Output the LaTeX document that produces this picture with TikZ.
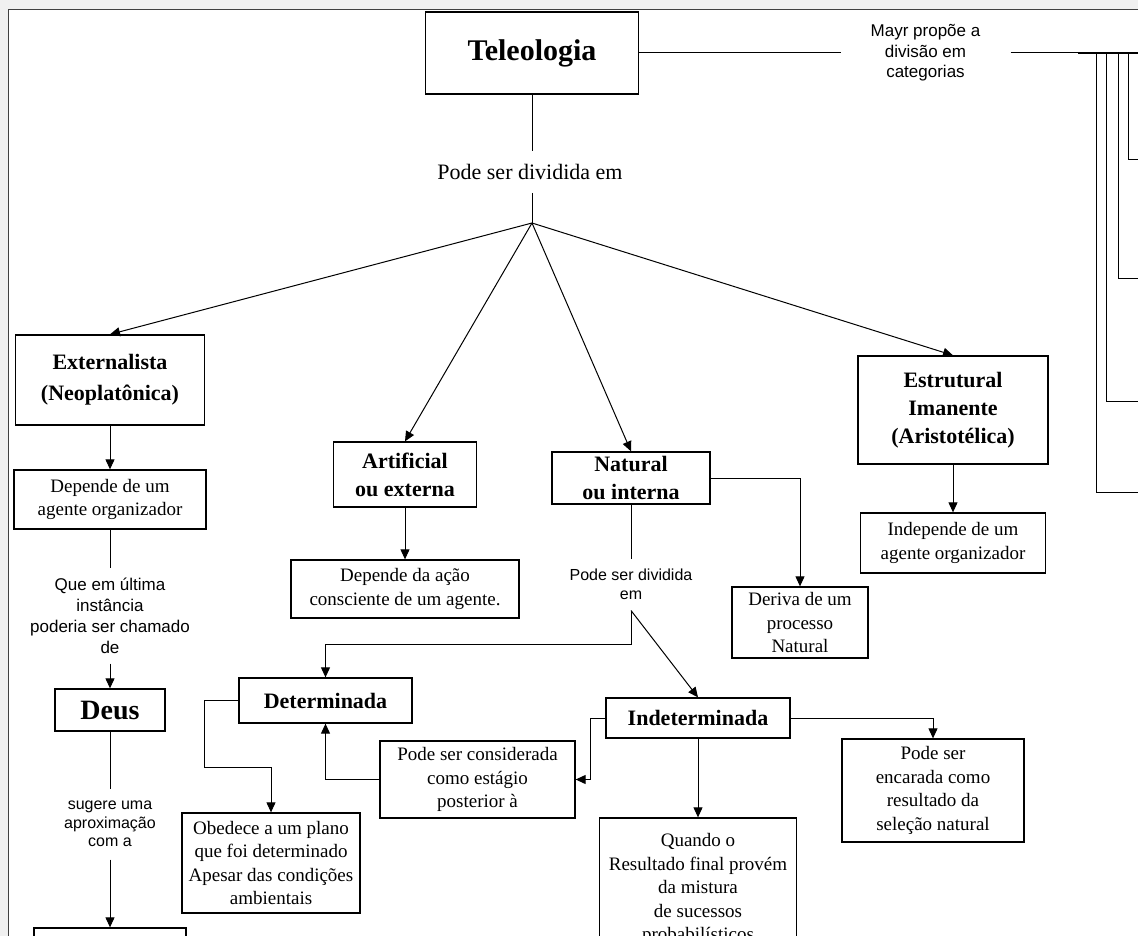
\documentclass[tikz,border=0pt]{standalone}
\usepackage{fontspec}
\setmainfont{Liberation Serif}
\setsansfont{Liberation Sans}
\usetikzlibrary{positioning}
\usetikzlibrary{arrows.meta}

\begin{document}
\begin{tikzpicture}[
  x=1pt, y=-1pt,
  line width=1pt,
  font=\fontsize{19}{23.5}\selectfont
]
\tikzset{
    conceptnode/.style = {rectangle, draw=black, align=center, inner sep=0pt, line width=1.3pt},
    titlenode/.style = {conceptnode, font=\bfseries\fontsize{22}{28}\selectfont},
    textnode/.style = {conceptnode, font=\fontsize{19}{23.5}\selectfont},
    linknode/.style = {align=center, inner sep=0pt, font=\sffamily\fontsize{16}{19.5}\selectfont},
    arrowline/.style = {-{Triangle[length=10pt,width=9pt]}},
}
\useasboundingbox (0,0) rectangle (1138,936);
\clip (0,0) rectangle (1138,936);
\fill[black!6] (0,0) rectangle (1138,936);
\fill[white] (8,10) rectangle (1138,936);
\draw[black!75] (8,936) -- (8,10) -- (1138,10);

\node[titlenode, font=\bfseries\fontsize{30}{36}\selectfont, minimum width=213, minimum height=82] (tele) at (532,53) {Teleologia};
\node[linknode, font=\fontsize{22}{26}\selectfont, minimum height=41] (divlbl) at (530,172) {Pode ser dividida em};
\node[linknode, font=\sffamily\fontsize{17}{20.5}\selectfont, minimum width=169, minimum height=60] (mayr) at (925.5,53) {Mayr propõe a\\divisão em\\categorias};

\node[titlenode, font=\bfseries\fontsize{22}{31}\selectfont, minimum width=189, minimum height=90] (ext) at (110,380) {Externalista\\(Neoplatônica)};
\node[textnode, minimum width=192, minimum height=59] (extdep) at (110,499.5) {Depende de um\\agente organizador};
\node[linknode, font=\sffamily\fontsize{17}{21}\selectfont, minimum height=95] (quelbl) at (110,615.5) {Que em última\\instância\\poderia ser chamado\\de};
\node[titlenode, font=\bfseries\fontsize{28}{34}\selectfont, minimum width=110, minimum height=42] (deus) at (110,710) {Deus};
\node[linknode, font=\sffamily\fontsize{16}{18.5}\selectfont, minimum height=70] (suglbl) at (110,824) {sugere uma\\aproximação\\com a};
\node[conceptnode, minimum width=152, minimum height=44] (nextbox) at (110,950) {};

\node[titlenode, minimum width=143, minimum height=65] (art) at (405,474.5) {Artificial\\ou externa};
\node[textnode, minimum width=228, minimum height=58] (artdep) at (405,589) {Depende da ação\\consciente de um agente.};

\node[titlenode, minimum width=158, minimum height=52] (nat) at (631,478) {Natural\\ou interna};
\node[textnode, minimum width=136, minimum height=71] (natder) at (800,622.5) {Deriva de um\\processo\\Natural};
\node[linknode, minimum height=51] (natlbl) at (631,584.5) {Pode ser dividida\\em};

\node[titlenode, minimum width=190, minimum height=108] (est) at (953,410) {Estrutural\\Imanente\\(Aristotélica)};
\node[textnode, minimum width=185, minimum height=60] (estind) at (953,543) {Independe de um\\agente organizador};

\node[titlenode, minimum width=173, minimum height=45] (det) at (325.5,700.5) {Determinada};
\node[textnode, minimum width=178, minimum height=100] (obed) at (271,863) {Obedece a um plano\\que foi determinado\\Apesar das condições\\ambientais};
\node[textnode, minimum width=195, minimum height=77] (post) at (477.5,779.5) {Pode ser considerada\\como estágio\\posterior à};
\node[titlenode, minimum width=184, minimum height=40] (indet) at (698,718) {Indeterminada};
\node[textnode, minimum width=182, minimum height=103] (sel) at (933,790.5) {Pode ser\\encarada como\\resultado da\\seleção natural};
\node[textnode, minimum width=197, minimum height=142] (quando) at (698,889) {Quando o\\Resultado final provém\\da mistura\\de sucessos\\probabilísticos};

\coordinate (split) at (532,223);
\draw (tele) -- (tele |- divlbl.north);
\draw (tele |- divlbl.south) -- (split);
\foreach \target in {ext,art,nat,est}
  \draw[arrowline] (split) -- (\target.north);

\coordinate (barstart) at (1078,53);
\coordinate (barend) at (1138,53);
\draw (tele) -- (mayr);
\draw (mayr) -- (barstart);
\draw[line width=2.5pt] (barstart) -- (barend);
\foreach \dx/\dy [count=\i] in {18/492,28/401,40/278,50/160} {
  \coordinate (cat\i) at (1138,\dy);
  \draw ([xshift=\dx]barstart) |- (cat\i);
}

\draw[arrowline] (ext) -- (extdep);
\draw (extdep) -- (quelbl);
\draw[arrowline] (quelbl) -- (deus);
\draw (deus) -- (suglbl);
\draw[arrowline] (suglbl) -- (nextbox);

\draw[arrowline] (art) -- (artdep);
\draw[arrowline] (nat) -| (natder);
\draw[arrowline] (est) -- (estind);
\draw (nat) -- (natlbl);
\draw[arrowline] (natlbl.south) -- ++(0,34) -| (det);
\draw[arrowline] (natlbl.south) -- (indet.north);

\draw[arrowline] (det.west) -- ++(-34,0) -- ++(0,67) -| (obed);
\draw[arrowline] (post) -| (det);
\draw[arrowline] (indet.west) -- ++(-15,0) |- (post);
\draw[arrowline] (indet) -| (sel);
\draw[arrowline] (indet) -- (quando);
\end{tikzpicture}
\end{document}
